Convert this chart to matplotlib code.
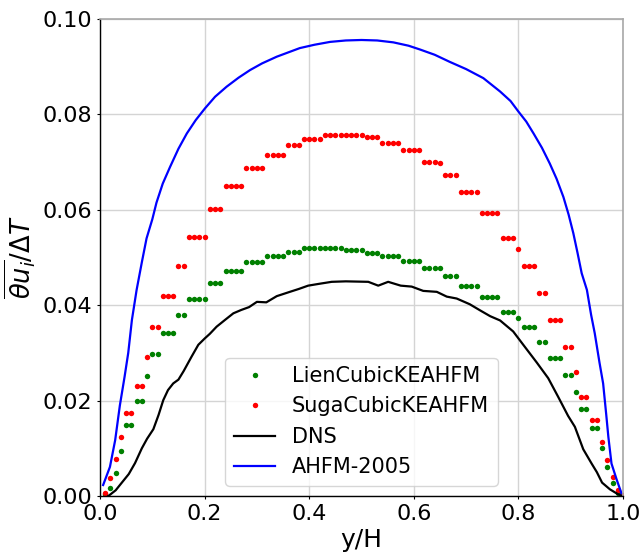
import numpy as np
import matplotlib
matplotlib.use('Agg')
import matplotlib.pyplot as plt

# ---- data ----
y_over_H = np.arange(1, 101) / 100  # 100 grid positions

lien = [0.0004, 0.0016, 0.0048, 0.0094, 0.0148, 0.0148, 0.0200, 0.0200, 0.0252, 0.0298,
        0.0298, 0.0341, 0.0341, 0.0341, 0.0379, 0.0379, 0.0414, 0.0414, 0.0414, 0.0414,
        0.0447, 0.0447, 0.0447, 0.0472, 0.0472, 0.0472, 0.0472, 0.0490, 0.0490, 0.0490,
        0.0490, 0.0504, 0.0504, 0.0504, 0.0504, 0.0512, 0.0512, 0.0512, 0.0519, 0.0519,
        0.0519, 0.0519, 0.0519, 0.0519, 0.0519, 0.0519, 0.0516, 0.0516, 0.0516, 0.0516,
        0.0510, 0.0510, 0.0510, 0.0503, 0.0503, 0.0503, 0.0503, 0.0492, 0.0492, 0.0492,
        0.0492, 0.0477, 0.0477, 0.0477, 0.0477, 0.0461, 0.0461, 0.0461, 0.0440, 0.0440,
        0.0440, 0.0440, 0.0417, 0.0417, 0.0417, 0.0417, 0.0386, 0.0386, 0.0386, 0.0374,
        0.0354, 0.0354, 0.0354, 0.0322, 0.0322, 0.0289, 0.0289, 0.0289, 0.0254, 0.0254,
        0.0217, 0.0182, 0.0182, 0.0142, 0.0142, 0.0101, 0.0061, 0.0027, 0.0007, 0.0001]

suga = [0.0006, 0.0037, 0.0078, 0.0123, 0.0175, 0.0175, 0.0231, 0.0231, 0.0292, 0.0355,
        0.0355, 0.0419, 0.0419, 0.0419, 0.0482, 0.0482, 0.0542, 0.0542, 0.0542, 0.0542,
        0.0601, 0.0601, 0.0601, 0.0650, 0.0650, 0.0650, 0.0650, 0.0688, 0.0688, 0.0688,
        0.0688, 0.0715, 0.0715, 0.0715, 0.0715, 0.0735, 0.0735, 0.0735, 0.0748, 0.0748,
        0.0748, 0.0748, 0.0757, 0.0757, 0.0757, 0.0757, 0.0757, 0.0757, 0.0757, 0.0757,
        0.0752, 0.0752, 0.0752, 0.0741, 0.0741, 0.0741, 0.0741, 0.0725, 0.0725, 0.0725,
        0.0725, 0.0701, 0.0701, 0.0701, 0.0699, 0.0673, 0.0673, 0.0673, 0.0637, 0.0637,
        0.0637, 0.0637, 0.0594, 0.0594, 0.0594, 0.0594, 0.0540, 0.0540, 0.0540, 0.0518,
        0.0483, 0.0483, 0.0483, 0.0426, 0.0426, 0.0369, 0.0369, 0.0369, 0.0312, 0.0312,
        0.0259, 0.0207, 0.0207, 0.0159, 0.0159, 0.0114, 0.0075, 0.0040, 0.0013, 0.0003]

dns_x = [0.016, 0.030, 0.041, 0.055, 0.067, 0.080, 0.090, 0.102, 0.112, 0.121,
         0.130, 0.140, 0.150, 0.160, 0.175, 0.188, 0.200, 0.210, 0.223, 0.240,
         0.255, 0.270, 0.285, 0.300, 0.318, 0.338, 0.363, 0.380, 0.398, 0.420,
         0.443, 0.470, 0.513, 0.532, 0.551, 0.575, 0.596, 0.618, 0.644, 0.663,
         0.682, 0.707, 0.727, 0.746, 0.765, 0.790, 0.810, 0.835, 0.857, 0.876,
         0.895, 0.908, 0.924, 0.940, 0.950, 0.960, 0.975, 0.990, 1.000]
dns_y = [0.0000, 0.0012, 0.0027, 0.0046, 0.0069, 0.0100, 0.0120, 0.0140, 0.0170, 0.0201,
         0.0222, 0.0236, 0.0244, 0.0262, 0.0292, 0.0317, 0.0330, 0.0340, 0.0355, 0.0370,
         0.0383, 0.0390, 0.0396, 0.0407, 0.0406, 0.0419, 0.0428, 0.0434, 0.0441, 0.0445,
         0.0449, 0.0450, 0.0449, 0.0441, 0.0449, 0.0441, 0.0439, 0.0430, 0.0428, 0.0418,
         0.0414, 0.0402, 0.0389, 0.0377, 0.0368, 0.0345, 0.0316, 0.0280, 0.0247, 0.0208,
         0.0168, 0.0145, 0.0098, 0.0068, 0.0050, 0.0028, 0.0014, 0.0004, 0.0000]

ahfm_x = [0.006, 0.019, 0.029, 0.038, 0.047, 0.054, 0.061, 0.070, 0.080, 0.089,
          0.100, 0.108, 0.120, 0.134, 0.150, 0.166, 0.183, 0.201, 0.220, 0.242,
          0.265, 0.287, 0.310, 0.338, 0.360, 0.382, 0.410, 0.440, 0.470, 0.500,
          0.530, 0.561, 0.590, 0.612, 0.640, 0.669, 0.700, 0.733, 0.765, 0.785,
          0.800, 0.815, 0.829, 0.845, 0.860, 0.873, 0.886, 0.896, 0.905, 0.913,
          0.921, 0.931, 0.939, 0.946, 0.955, 0.962, 0.968, 0.972, 0.978, 0.988, 0.997]
ahfm_y = [0.0023, 0.0061, 0.0117, 0.0190, 0.0250, 0.0300, 0.0369, 0.0432, 0.0490, 0.0540,
          0.0580, 0.0615, 0.0655, 0.0690, 0.0728, 0.0760, 0.0788, 0.0813, 0.0837, 0.0858,
          0.0877, 0.0893, 0.0907, 0.0921, 0.0930, 0.0939, 0.0946, 0.0952, 0.0955, 0.0956,
          0.0955, 0.0951, 0.0944, 0.0936, 0.0925, 0.0910, 0.0895, 0.0876, 0.0848, 0.0828,
          0.0806, 0.0785, 0.0760, 0.0730, 0.0697, 0.0665, 0.0627, 0.0590, 0.0551, 0.0510,
          0.0467, 0.0432, 0.0380, 0.0341, 0.0280, 0.0236, 0.0170, 0.0124, 0.0068, 0.0034, 0.0006]

x_ticks = [0.0, 0.2, 0.4, 0.6, 0.8, 1.0]
y_ticks = [0.00, 0.02, 0.04, 0.06, 0.08, 0.10]

# ---- figure ----
fig = plt.figure(figsize=(6.43, 5.52), dpi=100)
ax = fig.add_axes([100 / 643, 1 - 496 / 552, 523 / 643, 477 / 552])

ax.plot(y_over_H, lien, 'o', color='green', ms=3.9, mec='none', label='LienCubicKEAHFM')
ax.plot(y_over_H, suga, 'o', color='red', ms=3.9, mec='none', label='SugaCubicKEAHFM')
ax.plot(dns_x, dns_y, '-', color='black', lw=1.6, label='DNS')
ax.plot(ahfm_x, ahfm_y, '-', color='blue', lw=1.6, label='AHFM-2005')

ax.set_xlim(0, 1)
ax.set_ylim(0, 0.1)
ax.set_xticks(x_ticks)
ax.set_yticks(y_ticks)
ax.set_xticklabels([f'{v:.1f}' for v in x_ticks])
ax.set_yticklabels([f'{v:.2f}' for v in y_ticks])
ax.tick_params(labelsize=16, length=2, width=0.8, pad=3.5)

ax.grid(True, color='#d4d4d4', lw=1)
ax.set_axisbelow(True)
for s in ['left', 'bottom']:
    ax.spines[s].set_color('black')
    ax.spines[s].set_linewidth(1.0)
for s in ['top', 'right']:
    ax.spines[s].set_color('#a8a8a8')
    ax.spines[s].set_linewidth(1.2)

ax.set_xlabel('y/H', fontsize=18, labelpad=3)
ax.set_ylabel(r'$\overline{\theta u_i}/\Delta T$', fontsize=18.5, labelpad=3)

ax.legend(loc='lower center', fontsize=15, numpoints=1, markerscale=1.0)

fig.savefig('out.png', dpi=100)
